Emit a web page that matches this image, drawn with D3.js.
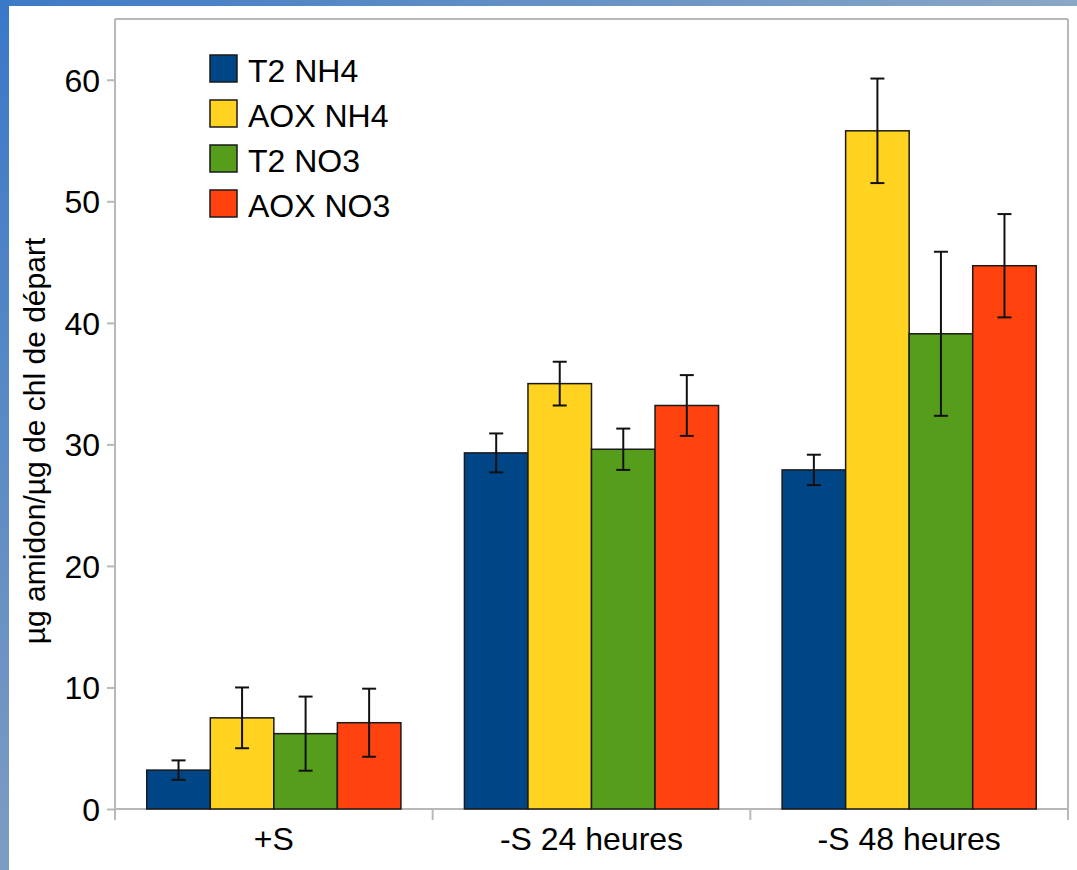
<!DOCTYPE html>
<html lang="fr">
<head>
    <meta charset="UTF-8">
    <title>amidon</title>
    <script src="https://cdn.jsdelivr.net/npm/d3@7"></script>
    <style>
        body { margin: 0; background: #fff; }
        text { font-family: "Liberation Sans", Arial, sans-serif; fill: #000; }
    </style>
</head>
<body>
<script>
    var categories = ["+S", "-S 24 heures", "-S 48 heures"];
    var series = ["T2 NH4", "AOX NH4", "T2 NO3", "AOX NO3"];
    var colors = ["#004586", "#ffd320", "#579d1c", "#ff420e"];
    // valeurs par categorie, dans l'ordre des series
    var values = [
        [3.2, 7.5, 6.2, 7.1],
        [29.3, 35.0, 29.6, 33.2],
        [27.9, 55.8, 39.1, 44.7]
    ];
    var errors = [
        [0.8, 2.5, 3.05, 2.8],
        [1.6, 1.8, 1.7, 2.5],
        [1.25, 4.3, 6.75, 4.25]
    ];
    var yTicks = [0, 10, 20, 30, 40, 50, 60];

    var W = 1077, H = 870;
    var pLeft = 115, pRight = 1068, pTop = 19, pBottom = 809;

    var svg = d3.select("body").append("svg").attr("width", W).attr("height", H);

    // cadre bleu
    var defs = svg.append("defs");
    var gl = defs.append("linearGradient").attr("id", "gl").attr("x1", 0).attr("y1", 0).attr("x2", 0).attr("y2", 1);
    gl.append("stop").attr("offset", "0%").attr("stop-color", "#3a78c8");
    gl.append("stop").attr("offset", "100%").attr("stop-color", "#7d9cc2");
    var gt = defs.append("linearGradient").attr("id", "gt").attr("x1", 0).attr("y1", 0).attr("x2", 1).attr("y2", 0);
    gt.append("stop").attr("offset", "0%").attr("stop-color", "#3d7ac6");
    gt.append("stop").attr("offset", "100%").attr("stop-color", "#8aa7c6");
    svg.append("rect").attr("x", 0).attr("y", 0).attr("width", W).attr("height", 6).attr("fill", "url(#gt)");
    svg.append("rect").attr("x", 0).attr("y", 0).attr("width", 9).attr("height", H).attr("fill", "url(#gl)");

    var x = d3.scaleBand().domain(categories).range([pLeft, pRight]);
    var xs = d3.scaleBand().domain(series).range([x.bandwidth() * 0.1, x.bandwidth() * 0.9]);
    var y = d3.scaleLinear().domain([0, 65]).range([pBottom, pTop]);

    var grey = "#b8b8b8";
    // cadre du graphe
    svg.append("line").attr("x1", pLeft).attr("y1", pTop).attr("x2", pRight).attr("y2", pTop).attr("stroke", grey).attr("stroke-width", 2);
    svg.append("line").attr("x1", pRight).attr("y1", pTop).attr("x2", pRight).attr("y2", pBottom + 11).attr("stroke", grey).attr("stroke-width", 2);

    // axe y
    var yAxis = svg.append("g").attr("transform", "translate(" + pLeft + ",0)")
        .call(d3.axisLeft(y).tickValues(yTicks).tickSize(8).tickPadding(7));
    yAxis.select(".domain").remove();
    yAxis.selectAll("line").attr("stroke", grey).attr("stroke-width", 2);
    yAxis.selectAll("text").attr("font-size", 32).attr("fill", "#000").attr("dy", "0.36em")
        .attr("font-family", "Liberation Sans, Arial, sans-serif");
    svg.append("line").attr("x1", pLeft).attr("y1", pTop).attr("x2", pLeft).attr("y2", pBottom + 11).attr("stroke", grey).attr("stroke-width", 2);

    // axe x
    svg.append("line").attr("x1", pLeft).attr("y1", pBottom).attr("x2", pRight).attr("y2", pBottom).attr("stroke", grey).attr("stroke-width", 2);
    var bounds = categories.map(function (c) { return x(c); }).concat([pRight]);
    svg.selectAll(".xtick").data(bounds).enter().append("line")
        .attr("x1", function (d) { return d; }).attr("x2", function (d) { return d; })
        .attr("y1", pBottom).attr("y2", pBottom + 11).attr("stroke", grey).attr("stroke-width", 2);
    svg.selectAll(".xlab").data(categories).enter().append("text")
        .attr("x", function (d) { return x(d) + x.bandwidth() / 2; })
        .attr("y", 850).attr("text-anchor", "middle").attr("font-size", 32)
        .text(function (d) { return d; });

    // barres
    var rows = [];
    categories.forEach(function (c, i) {
        series.forEach(function (s, j) {
            rows.push({c: c, s: s, v: values[i][j], e: errors[i][j], color: colors[j]});
        });
    });
    svg.selectAll(".bar").data(rows).enter().append("rect")
        .attr("x", function (d) { return x(d.c) + xs(d.s); })
        .attr("y", function (d) { return y(d.v); })
        .attr("width", xs.bandwidth())
        .attr("height", function (d) { return y(0) - y(d.v); })
        .attr("fill", function (d) { return d.color; })
        .attr("stroke", "#1a1a1a").attr("stroke-width", 1.5);

    // barres d'erreur
    var eb = svg.selectAll(".err").data(rows).enter().append("g")
        .attr("transform", function (d) { return "translate(" + (x(d.c) + xs(d.s) + xs.bandwidth() / 2) + ",0)"; });
    eb.append("line").attr("x1", 0).attr("x2", 0)
        .attr("y1", function (d) { return y(d.v + d.e); })
        .attr("y2", function (d) { return y(d.v - d.e); })
        .attr("stroke", "#111").attr("stroke-width", 2);
    eb.append("line").attr("x1", -7).attr("x2", 7)
        .attr("y1", function (d) { return y(d.v + d.e); })
        .attr("y2", function (d) { return y(d.v + d.e); })
        .attr("stroke", "#111").attr("stroke-width", 2);
    eb.append("line").attr("x1", -7).attr("x2", 7)
        .attr("y1", function (d) { return y(d.v - d.e); })
        .attr("y2", function (d) { return y(d.v - d.e); })
        .attr("stroke", "#111").attr("stroke-width", 2);

    // legende
    var leg = svg.selectAll(".leg").data(series).enter().append("g")
        .attr("transform", function (d, i) { return "translate(210," + (82 + i * 45) + ")"; });
    leg.append("rect").attr("x", 0).attr("y", -27).attr("width", 27).attr("height", 27)
        .attr("fill", function (d, i) { return colors[i]; })
        .attr("stroke", "#1a1a1a").attr("stroke-width", 1.5);
    leg.append("text").attr("x", 38).attr("y", 0).attr("font-size", 32).text(function (d) { return d; });

    // titre axe y
    svg.append("text").attr("transform", "translate(45,441) rotate(-90)")
        .attr("text-anchor", "middle").attr("font-size", 30)
        .text("µg amidon/µg de chl de départ");
</script>
</body>
</html>
